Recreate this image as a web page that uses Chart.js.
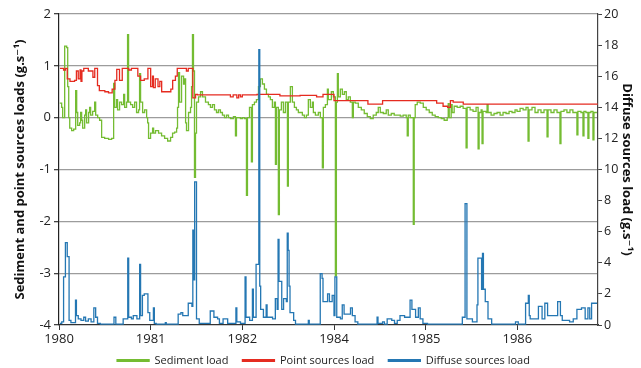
<!DOCTYPE html>
<html>
<head>
<meta charset="utf-8">
<script src="https://cdn.jsdelivr.net/npm/chart.js@4.4.1/dist/chart.umd.min.js"></script>
<style>
  body { margin: 0; background: #fff; }
  canvas { display: block; }
</style>
</head>
<body>
<canvas id="mycanvas" width="641" height="368"></canvas>
<script>
// time is in years from the first tick; tick labels as printed on the original axis
var xTickLabels = ['1980', '1981', '1982', '1984', '1985', '1986'];

var sedimentT = [0.008,0.029,0.040,0.062,0.084,0.095,0.106,0.117,0.138,0.160,0.182,0.193,0.204,0.225,0.236,0.247,0.258,0.280,0.291,0.301,0.323,0.334,0.345,0.367,0.389,0.400,0.422,0.443,0.465,0.498,0.541,0.574,0.596,0.607,0.628,0.639,0.661,0.683,0.705,0.716,0.737,0.748,0.759,0.781,0.803,0.825,0.846,0.868,0.879,0.890,0.912,0.934,0.956,0.967,0.977,0.999,1.021,1.032,1.053,1.086,1.119,1.152,1.185,1.217,1.239,1.261,1.283,1.293,1.304,1.315,1.337,1.359,1.370,1.381,1.391,1.413,1.435,1.446,1.456,1.467,1.478,1.489,1.500,1.522,1.544,1.565,1.598,1.630,1.652,1.674,1.696,1.718,1.740,1.761,1.783,1.805,1.827,1.849,1.871,1.903,1.925,1.936,1.958,1.979,2.001,2.023,2.045,2.056,2.078,2.099,2.110,2.132,2.154,2.176,2.197,2.219,2.241,2.263,2.285,2.306,2.328,2.350,2.361,2.372,2.393,2.404,2.426,2.448,2.470,2.492,2.502,2.524,2.546,2.568,2.590,2.611,2.633,2.655,2.677,2.699,2.720,2.742,2.764,2.775,2.797,2.829,2.851,2.873,2.884,2.906,2.928,2.938,2.971,2.993,3.015,3.026,3.037,3.047,3.069,3.091,3.113,3.134,3.156,3.178,3.200,3.211,3.232,3.265,3.298,3.330,3.363,3.396,3.428,3.461,3.483,3.505,3.538,3.570,3.592,3.625,3.657,3.690,3.723,3.755,3.788,3.799,3.810,3.832,3.865,3.875,3.886,3.908,3.941,3.974,4.006,4.039,4.072,4.104,4.137,4.170,4.202,4.235,4.246,4.257,4.278,4.289,4.311,4.344,4.377,4.409,4.441,4.452,4.485,4.517,4.550,4.572,4.583,4.605,4.615,4.626,4.659,4.670,4.681,4.714,4.746,4.779,4.812,4.844,4.877,4.910,4.942,4.975,4.997,5.030,5.063,5.095,5.117,5.128,5.160,5.193,5.226,5.258,5.291,5.324,5.335,5.367,5.400,5.433,5.465,5.476,5.509,5.541,5.574,5.606,5.650,5.661,5.694,5.716,5.727,5.748,5.770,5.781,5.803,5.825,5.836,5.868];
var sedimentV = [0.28,0.2,0.0,1.38,1.35,0.6,0.0,-0.2,-0.25,-0.22,0.52,0.1,-0.15,-0.1,0.1,-0.05,-0.2,0.05,0.15,-0.1,0.1,0.2,0.05,0.12,0.3,0.05,0.0,-0.05,-0.38,-0.4,-0.42,-0.4,0.66,0.2,0.35,0.15,0.3,0.25,0.45,0.2,0.3,1.6,0.3,0.25,0.2,0.3,0.1,0.15,0.85,0.3,0.1,0.15,0.0,-0.1,-0.4,-0.3,-0.2,-0.3,-0.25,-0.3,-0.35,-0.4,-0.45,-0.38,-0.3,-0.28,-0.2,0.2,0.87,0.3,0.8,0.65,0.75,-0.1,-0.25,0.1,0.2,0.6,1.6,0.9,-1.15,-0.3,0.3,0.4,0.5,0.4,0.3,0.25,0.2,0.25,0.15,0.1,0.15,0.1,0.05,0.0,0.05,0.0,-0.02,0.02,-0.35,0.0,0.0,-0.02,0.0,-0.02,-1.5,0.0,0.2,-0.85,0.25,0.3,0.35,0.6,0.75,0.65,0.55,0.45,0.4,0.35,0.2,0.3,-0.9,0.2,-1.87,0.15,0.3,0.1,0.3,-1.32,0.3,0.6,0.3,0.2,0.15,0.1,0.1,0.05,0.0,0.05,0.35,0.2,0.3,0.1,0.05,0.1,0.0,-0.97,0.2,0.25,0.55,0.35,0.5,0.4,-3.05,0.3,0.85,0.4,0.55,0.45,0.5,0.35,0.4,0.3,0.0,0.3,0.28,0.2,0.15,0.08,0.02,-0.02,0.05,0.1,0.2,0.1,0.08,0.15,0.05,0.08,0.05,0.05,0.03,0.05,0.0,-0.35,0.05,0.0,-2.06,0.0,0.25,0.3,0.28,0.2,0.15,0.1,0.05,0.02,0.0,-0.02,-0.05,0.0,0.27,0.0,0.25,0.1,0.22,0.2,0.22,0.18,-0.58,0.2,0.15,0.12,0.2,-0.6,0.1,0.15,-0.5,0.12,0.1,0.25,0.1,0.05,0.08,0.1,0.05,0.1,0.08,0.12,0.1,0.15,0.12,0.18,0.15,0.2,-0.45,0.15,0.2,0.1,0.15,0.1,0.15,-0.37,0.15,0.1,0.15,0.1,-0.5,0.12,0.15,0.1,0.15,0.1,-0.33,0.12,0.1,-0.35,0.12,0.1,-0.4,0.1,0.12,-0.43,0.1,0.1];

var pointT = [0.01,0.05,0.07,0.09,0.12,0.17,0.19,0.21,0.23,0.24,0.25,0.27,0.32,0.37,0.39,0.42,0.44,0.50,0.54,0.58,0.61,0.63,0.66,0.69,0.76,0.79,0.86,0.89,0.93,0.97,1.00,1.02,1.03,1.05,1.08,1.10,1.12,1.16,1.22,1.24,1.27,1.29,1.39,1.41,1.46,1.49,1.51,1.87,1.90,1.94,1.96,1.98,2.00,2.16,2.41,2.63,2.81,2.88,3.00,3.37,3.53,4.12,4.19,4.24,4.27,4.30,4.41,5.87];
var pointV = [0.95,0.92,0.95,0.75,0.7,0.72,0.9,0.75,0.92,0.7,0.9,0.95,0.9,0.78,0.95,0.62,0.52,0.5,0.48,0.55,0.72,0.93,0.72,0.95,0.92,0.95,0.8,0.72,0.75,0.95,0.6,0.8,0.58,0.75,0.6,0.7,0.5,0.5,0.55,0.72,0.8,0.95,0.9,0.95,0.38,0.45,0.44,0.4,0.44,0.38,0.44,0.4,0.44,0.45,0.42,0.43,0.4,0.45,0.33,0.26,0.33,0.28,0.22,0.2,0.33,0.3,0.26,0.25];

var diffuseT = [0.01,0.03,0.05,0.07,0.09,0.11,0.13,0.18,0.19,0.21,0.24,0.27,0.29,0.32,0.35,0.38,0.40,0.42,0.45,0.60,0.62,0.70,0.75,0.76,0.79,0.81,0.85,0.88,0.89,0.91,0.93,0.97,0.99,1.03,1.04,1.06,1.16,1.17,1.30,1.33,1.35,1.41,1.45,1.46,1.47,1.48,1.50,1.53,1.65,1.69,1.73,1.75,1.79,1.84,1.93,1.94,1.98,2.03,2.04,2.08,2.11,2.12,2.15,2.18,2.19,2.20,2.23,2.26,2.27,2.33,2.36,2.38,2.39,2.40,2.43,2.45,2.48,2.49,2.50,2.51,2.52,2.56,2.58,2.72,2.73,2.85,2.87,2.88,2.93,2.95,2.98,3.00,3.01,3.03,3.07,3.09,3.11,3.18,3.20,3.23,3.26,3.47,3.48,3.53,3.55,3.58,3.63,3.66,3.69,3.72,3.77,3.83,3.85,3.89,3.92,3.94,3.97,4.02,4.40,4.43,4.45,4.51,4.56,4.57,4.61,4.62,4.63,4.65,4.68,4.72,4.98,5.01,5.09,5.12,5.13,5.14,5.23,5.27,5.30,5.33,5.36,5.44,5.47,5.49,5.57,5.61,5.65,5.70,5.74,5.77,5.79,5.81,5.87];
var diffuseV = [0.1,0.2,3.1,5.3,4.4,0.3,0.15,1.6,0.6,0.4,0.3,0.5,0.25,0.4,0.2,1.1,0.5,0.1,0.05,0.5,0.05,0.4,4.3,0.5,0.4,0.6,0.4,3.9,0.6,1.9,2.0,0.8,0.3,1.1,0.1,0.05,0.15,0.05,0.7,0.8,0.6,1.4,1.2,6.1,2.9,9.2,0.4,0.1,0.9,0.5,0.4,0.1,0.4,0.1,1.1,0.2,0.1,3.1,0.5,0.3,2.3,0.5,3.9,17.7,2.5,1.0,0.5,1.3,0.5,0.4,1.7,1.0,5.5,2.8,1.0,1.7,1.5,5.9,4.8,2.5,0.8,0.3,0.05,0.3,0.05,3.3,3.0,1.5,2.0,1.5,1.9,0.6,3.1,0.5,0.4,1.3,0.7,1.1,0.6,0.2,0.05,0.5,0.1,0.2,0.05,0.4,0.3,0.1,0.3,0.6,0.5,1.6,1.0,0.5,1.1,0.4,0.1,0.05,0.5,7.8,0.4,0.2,1.3,4.3,2.3,4.6,2.3,1.5,0.4,0.05,0.2,0.05,1.4,1.9,0.6,0.4,1.2,0.4,1.4,0.6,0.6,1.5,0.6,0.3,0.2,0.4,1.0,1.1,0.4,1.1,0.4,1.4,1.4];

function pairs(t, v) {
	var out = [];
	for (var i in t) {
		out.push({x: t[i], y: v[i]});
	}
	return out;
}

var fontName = "'Open Sans', 'DejaVu Sans', sans-serif";
var legendLift = 6;

// legend: keep its box short and lift the drawing a bit, so it sits just under the year labels
var legendFit = {
	id: 'legendFit',
	beforeUpdate: function(chart) {
		var lg = chart.legend;
		if (lg && !lg._fitPatched) {
			var fit = lg.fit;
			var draw = lg.draw;
			lg.fit = function() {
				fit.call(this);
				this.height = 21;
			};
			lg.draw = function() {
				var c = this.ctx;
				var b = this.bottom;
				this.bottom = b + legendLift;
				c.save();
				c.translate(0, -legendLift);
				draw.call(this);
				c.restore();
				this.bottom = b;
			};
			lg._fitPatched = true;
		}
	}
};

var chartdata = {
	datasets: [
		{
			label: 'Sediment load',
			data: pairs(sedimentT, sedimentV),
			borderColor: '#74bc32',
			backgroundColor: '#8cc63f',
			yAxisID: 'y',
			order: 3
		},
		{
			label: 'Point sources load',
			data: pairs(pointT, pointV),
			borderColor: '#e52b20',
			backgroundColor: '#e8423a',
			yAxisID: 'y',
			order: 2
		},
		{
			label: 'Diffuse sources load',
			data: pairs(diffuseT, diffuseV),
			borderColor: '#2477b3',
			backgroundColor: '#3a8ac4',
			yAxisID: 'y2',
			order: 1
		}
	]
};

var ctx = document.getElementById('mycanvas');

var lineGraph = new Chart(ctx, {
	type: 'line',
	data: chartdata,
	plugins: [legendFit],
	options: {
		responsive: false,
		animation: false,
		devicePixelRatio: 1,
		layout: { padding: { left: 12, right: 6, top: 14, bottom: 0 } },
		elements: {
			point: { radius: 0 },
			line: { borderWidth: 1.3, stepped: true, tension: 0, fill: false }
		},
		scales: {
			x: {
				type: 'linear',
				min: 0,
				max: 5.88,
				afterFit: function(scale) { scale.height = 22; },
				border: { color: '#333', width: 1.2 },
				grid: { drawOnChartArea: false, tickLength: 5, tickColor: '#333' },
				ticks: {
					stepSize: 1,
					includeBounds: false,
					maxRotation: 0,
					padding: 1,
					color: '#222',
					font: { family: fontName, size: 13 },
					callback: function(value) { return xTickLabels[Math.round(value)]; }
				}
			},
			y: {
				position: 'left',
				min: -4,
				max: 2,
				afterFit: function(scale) { scale.width = 47; },
				border: { color: '#222', width: 1.2 },
				grid: {
					color: function(c) { return c.tick.value === -4 ? 'rgba(0,0,0,0)' : '#9c9c9c'; },
					lineWidth: 1.3,
					tickLength: 5,
					tickColor: '#444'
				},
				ticks: {
					stepSize: 1,
					padding: 3,
					color: '#222',
					font: { family: fontName, size: 13 }
				},
				title: {
					display: true,
					text: 'Sediment and point sources loads (g.s\u207B\u00B9)',
					color: '#111',
					padding: 0,
					font: { family: fontName, size: 13, weight: 'bold' }
				}
			},
			y2: {
				position: 'right',
				min: 0,
				max: 20,
				afterFit: function(scale) { scale.width = 37; },
				border: { color: '#444', width: 1.2 },
				grid: { drawOnChartArea: false, tickLength: 4, tickColor: '#444' },
				ticks: {
					stepSize: 2,
					padding: 2,
					color: '#222',
					font: { family: fontName, size: 12.5 }
				},
				title: {
					display: true,
					text: 'Diffuse sources load (g.s\u207B\u00B9)',
					color: '#111',
					padding: 0,
					font: { family: fontName, size: 13, weight: 'bold' }
				}
			}
		},
		plugins: {
			tooltip: { enabled: false },
			legend: {
				position: 'bottom',
				labels: {
					boxWidth: 32,
					boxHeight: 1.5,
					padding: 14,
					color: '#222',
					font: { family: fontName, size: 11 },
					sort: function(a, b) { return a.datasetIndex - b.datasetIndex; }
				}
			}
		}
	}
});
</script>
</body>
</html>
